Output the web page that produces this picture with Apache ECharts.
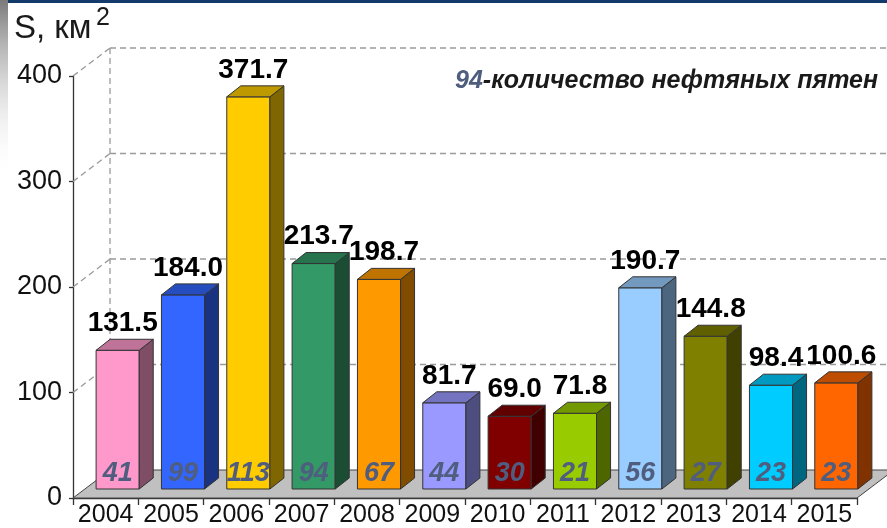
<!DOCTYPE html>
<html>
<head>
<meta charset="utf-8">
<script src="https://cdn.jsdelivr.net/npm/echarts@6/dist/echarts.min.js"></script>
<style>
  html, body { margin: 0; padding: 0; background: #fff; }
  #chart { width: 887px; height: 528px; }
</style>
</head>
<body>
<div id="chart"></div>
<script>
// площадь нефтяных пятен по годам
const years = ['2004', '2005', '2006', '2007', '2008', '2009', '2010', '2011', '2012', '2013', '2014', '2015']
const areas = [131.5, 184.0, 371.7, 213.7, 198.7, 81.7, 69.0, 71.8, 190.7, 144.8, 98.4, 100.6]
const spillCounts = [41, 99, 113, 94, 67, 44, 30, 21, 56, 27, 23, 23]
const yTicks = [100, 200, 300, 400]

const barColors = ['#ff99cc', '#3366ff', '#ffcc00', '#339966', '#ff9900', '#9999ff',
  '#800000', '#99cc00', '#99ccff', '#808000', '#00ccff', '#ff6600']

const FONT = '"Liberation Sans", Arial, sans-serif'
const COUNT_COLOR = '#4f5d7e'
// perspective offsets
const WALL_DX = 37, WALL_DY = 28
const BAR_SHIFT_X = 12, BAR_SHIFT_Y = 9
const BAR_DX = 14, BAR_DY = 11

function shade (hex, f) {
  const n = parseInt(hex.slice(1), 16)
  const r = Math.round(((n >> 16) & 255) * f)
  const g = Math.round(((n >> 8) & 255) * f)
  const b = Math.round((n & 255) * f)
  return 'rgb(' + r + ',' + g + ',' + b + ')'
}

const chart = echarts.init(document.getElementById('chart'), null, {renderer: 'canvas'})

const dashStyle = {stroke: '#9a9a9a', lineWidth: 1.3, lineDash: [6, 4]}

const option = {
  animation: false,
  grid: {left: 73, right: 30, top: 76, bottom: 30},
  xAxis: {
    type: 'category',
    data: years,
    axisLine: {lineStyle: {color: '#333', width: 1.3}},
    axisTick: {show: true, interval: 0, length: 7, lineStyle: {color: '#333', width: 1.3}},
    axisLabel: {interval: 0, margin: 5, color: '#111', fontSize: 25, fontFamily: FONT}
  },
  yAxis: {
    type: 'value',
    min: 0,
    max: 400,
    interval: 100,
    axisLine: {show: true, lineStyle: {color: '#333', width: 1.3}},
    axisTick: {show: true, length: 4, lineStyle: {color: '#333', width: 1.3}},
    axisLabel: {margin: 11, color: '#111', fontSize: 27, fontFamily: FONT},
    splitLine: {show: false}
  },
  graphic: [
    {
      type: 'rect', left: 0, top: 0, z: 10,
      shape: {width: 8, height: 180},
      style: {fill: new echarts.graphic.LinearGradient(0, 0, 0, 1, [
        {offset: 0, color: '#7a7a7a'},
        {offset: 1, color: 'rgba(255,255,255,0)'}
      ])}
    },
    {type: 'rect', left: 8, top: 0, z: 10, shape: {width: 879, height: 3}, style: {fill: '#123a6b'}},
    {
      type: 'text', left: 14, top: 12, z: 10,
      style: {text: 'S, км', fill: '#1a1a1a', font: '33px ' + FONT}
    },
    {
      type: 'text', left: 96, top: 6, z: 10,
      style: {text: '2', fill: '#1a1a1a', font: '25px ' + FONT}
    },
    {
      type: 'text', left: 455, top: 69, z: 10,
      style: {
        text: '{a|94}{b|-количество нефтяных пятен}',
        rich: {
          a: {fill: COUNT_COLOR, font: 'italic bold 25px ' + FONT},
          b: {fill: '#1a1a1a', font: 'italic bold 25px ' + FONT}
        }
      }
    }
  ],
  series: [
    { // back wall grid lines
      type: 'custom',
      z: 1,
      silent: true,
      data: yTicks.map(v => [0, v]),
      renderItem (params, api) {
        const p = api.coord([0, api.value(1)])
        const cs = params.coordSys
        const x0 = cs.x
        const children = [
          {type: 'line', shape: {x1: x0, y1: p[1], x2: x0 + WALL_DX, y2: p[1] - WALL_DY}, style: dashStyle},
          {type: 'line', shape: {x1: x0 + WALL_DX, y1: p[1] - WALL_DY, x2: cs.x + cs.width + WALL_DX, y2: p[1] - WALL_DY}, style: dashStyle}
        ]
        if (params.dataIndex === yTicks.length - 1) {
          const b = api.coord([0, 0])
          children.push({type: 'line', shape: {x1: x0 + WALL_DX, y1: p[1] - WALL_DY, x2: x0 + WALL_DX, y2: b[1] - WALL_DY}, style: dashStyle})
        }
        return {type: 'group', children: children}
      }
    },
    { // floor
      type: 'custom',
      z: 2,
      silent: true,
      data: [[0, 0]],
      renderItem (params, api) {
        const cs = params.coordSys
        const y = api.coord([0, 0])[1]
        const xl = cs.x
        const xr = cs.x + cs.width
        return {
          type: 'polygon',
          shape: {points: [[xl, y], [xr, y], [xr + WALL_DX, y - WALL_DY], [xl + WALL_DX, y - WALL_DY]]},
          style: {fill: '#c0c0c0', stroke: '#444', lineWidth: 1}
        }
      }
    },
    { // 3D bars
      type: 'custom',
      z: 3,
      silent: true,
      data: areas.map((v, i) => [i, v, spillCounts[i]]),
      renderItem (params, api) {
        const i = api.value(0)
        const v = api.value(1)
        const base = api.coord([i, 0])
        const top = api.coord([i, v])
        const bw = api.size([1, 0])[0] * 0.66
        const cx = base[0] + BAR_SHIFT_X
        const x0 = cx - bw / 2
        const x1 = cx + bw / 2
        const yb = base[1] - BAR_SHIFT_Y
        const yt = top[1] - BAR_SHIFT_Y
        const c = barColors[i]
        const edge = {stroke: '#333', lineWidth: 1}
        return {
          type: 'group',
          children: [
            {type: 'rect', shape: {x: x0, y: yt, width: bw, height: yb - yt}, style: Object.assign({fill: c}, edge)},
            {type: 'polygon', shape: {points: [[x1, yt], [x1 + BAR_DX, yt - BAR_DY], [x1 + BAR_DX, yb - BAR_DY], [x1, yb]]}, style: Object.assign({fill: shade(c, 0.5)}, edge)},
            {type: 'polygon', shape: {points: [[x0, yt], [x0 + BAR_DX, yt - BAR_DY], [x1 + BAR_DX, yt - BAR_DY], [x1, yt]]}, style: Object.assign({fill: shade(c, 0.75)}, edge)},
            {
              type: 'text',
              style: {
                x: cx + 5, y: yt - BAR_DY - 16,
                text: v.toFixed(1),
                fill: '#000',
                font: 'bold 28px ' + FONT,
                align: 'center', verticalAlign: 'middle'
              }
            },
            {
              type: 'text',
              style: {
                x: cx, y: yb - 15,
                text: String(api.value(2)),
                fill: COUNT_COLOR,
                font: 'italic bold 27px ' + FONT,
                align: 'center', verticalAlign: 'middle'
              }
            }
          ]
        }
      }
    }
  ]
}

chart.setOption(option)
</script>
</body>
</html>
